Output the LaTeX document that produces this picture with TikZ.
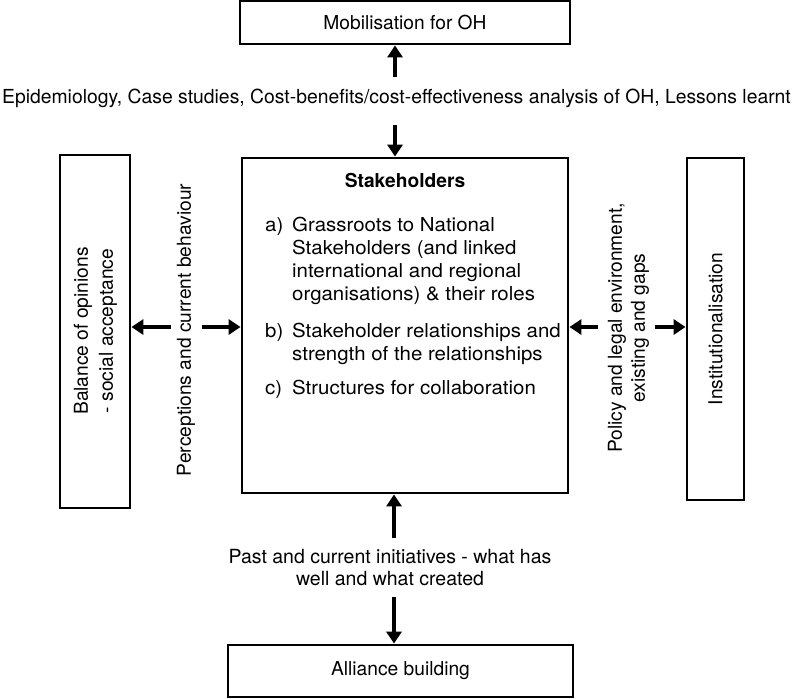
\documentclass[tikz,border=0pt]{standalone}
\usepackage{fontspec}
\setmainfont{TeX Gyre Heros}
\newfontfamily\wideheros[FakeStretch=1.065]{TeX Gyre Heros}
\usetikzlibrary{arrows.meta}
\begin{document}
\begin{tikzpicture}[x=1pt,y=-1pt,
  box/.style={draw=black,line width=2.8pt,inner sep=0pt,fill=white},
  txt/.style={inner sep=0pt,font=\fontsize{19.2}{23}\selectfont},
  itm/.style={inner sep=0pt,font=\wideheros\fontsize{19.2}{23}\selectfont},
  arr/.style={line width=4.5pt,-{Triangle[length=12pt,width=15pt]},shorten >=0pt},
]
\useasboundingbox (0,0) rectangle (793,699);
% boxes
\node[box,minimum width=330pt,minimum height=43pt,txt] (mob) at (405,22.5) {Mobilisation for OH};
\node[box,minimum width=326pt,minimum height=335pt] (stk) at (405,325.5) {};
\node[box,minimum width=70pt,minimum height=353pt] (bal) at (95,331.5) {};
\node[box,minimum width=57pt,minimum height=342pt] (ins) at (715.5,329) {};
\node[box,minimum width=345pt,minimum height=52pt,txt] (all) at (400.5,671) {Alliance building};
% box texts
\node[txt,rotate=90,align=center,font=\fontsize{19.2}{25}\selectfont] (baltxt) at (95.5,331) {Balance of opinions\\- social acceptance};
\node[txt,rotate=90] (instxt) at (715.5,329) {Institutionalisation};
\node[txt,anchor=base,font=\fontsize{19.2}{23}\selectfont\bfseries] (sth) at (405,187) {Stakeholders};
\node[itm,anchor=base west] (la) at (265,231) {a)};
\node[itm,anchor=base west] (a1) at (292,231) {Grassroots to National};
\node[itm,anchor=base west] (a2) at (292,254) {Stakeholders (and linked};
\node[itm,anchor=base west] (a3) at (292,277) {international and regional};
\node[itm,anchor=base west] (a4) at (292,300) {organisations) \& their roles};
\node[itm,anchor=base west] (lb) at (265,337) {b)};
\node[itm,anchor=base west] (b1) at (292,337) {Stakeholder relationships and};
\node[itm,anchor=base west] (b2) at (292,360) {strength of the relationships};
\node[itm,anchor=base west] (lc) at (265,394) {c)};
\node[itm,anchor=base west] (c1) at (292,394) {Structures for collaboration};
% connector labels
\node[txt,font=\fontsize{19.35}{23}\selectfont] (epi) at (396.5,98) {Epidemiology, Case studies, Cost-benefits/cost-effectiveness analysis of OH, Lessons learnt};
\node[txt,rotate=90] (per) at (186,330) {Perceptions and current behaviour};
\node[txt,rotate=90,align=center] (pol) at (628.5,328) {Policy and legal environment,\\existing and gaps};
\node[txt,align=center,font=\fontsize{19.5}{22}\selectfont] (past) at (390,568) {Past and current initiatives - what has\\well and what created};
% arrow tails
\coordinate (t1) at (395,77);
\coordinate (t2) at (395,125);
\coordinate (l1) at (171,327);
\coordinate (l2) at (202,327);
\coordinate (r1) at (598,327);
\coordinate (r2) at (655,327);
\coordinate (b1t) at (394,538);
\coordinate (b2t) at (394,597);
% arrows
\draw[arr] (t1) -- (t1 |- mob.south);
\draw[arr] (t2) -- (t2 |- stk.north);
\draw[arr] (l1) -- (l1 -| bal.east);
\draw[arr] (l2) -- (l2 -| stk.west);
\draw[arr] (r1) -- (r1 -| stk.east);
\draw[arr] (r2) -- (r2 -| ins.west);
\draw[arr] (b1t) -- (b1t |- stk.south);
\draw[arr] (b2t) -- (b2t |- all.north);
\end{tikzpicture}
\end{document}
